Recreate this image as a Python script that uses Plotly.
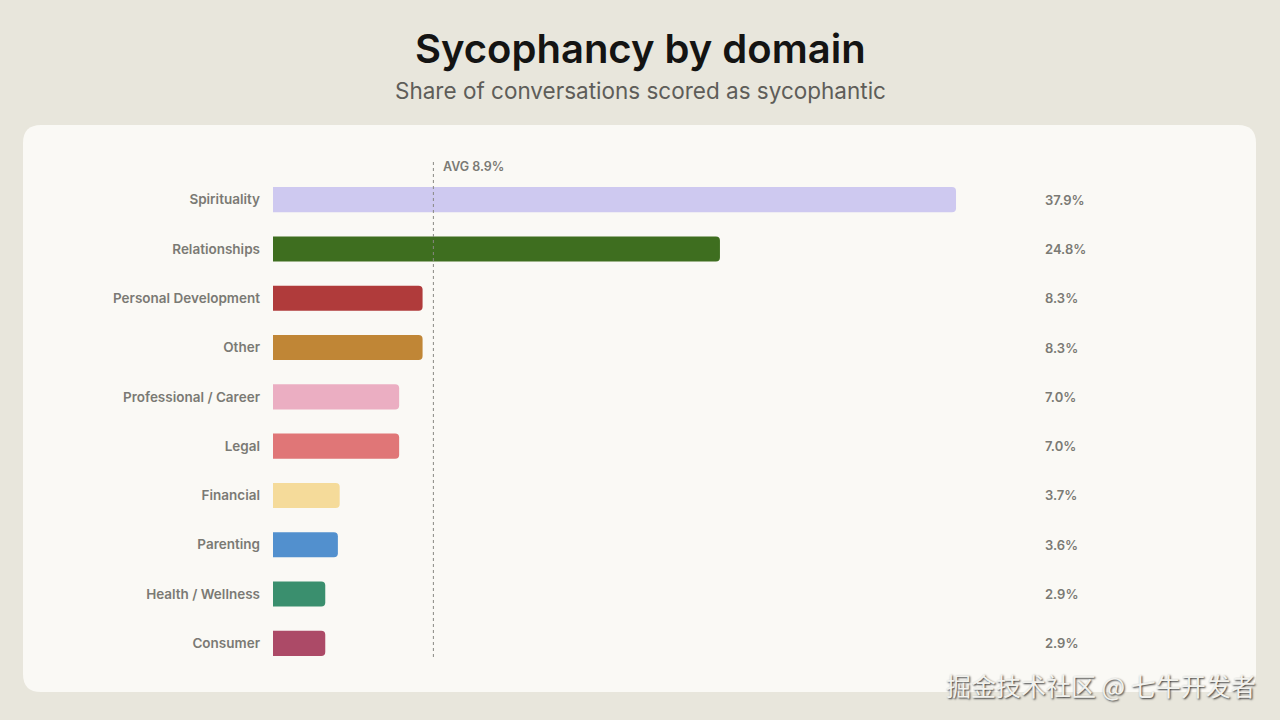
import plotly.graph_objects as go

categories = ["Spirituality", "Relationships", "Personal Development", "Other",
              "Professional / Career", "Legal", "Financial", "Parenting",
              "Health / Wellness", "Consumer"]
values = [37.9, 24.8, 8.3, 8.3, 7.0, 7.0, 3.7, 3.6, 2.9, 2.9]
value_labels = ["37.9%", "24.8%", "8.3%", "8.3%", "7.0%", "7.0%", "3.7%", "3.6%", "2.9%", "2.9%"]
colors = ["#CEC9F0", "#3E6E1F", "#B03B3B", "#C08636", "#EBAEC2",
          "#E07677", "#F5DB9A", "#5290CE", "#3A8F6E", "#AC4A67"]
avg_value = 8.9
avg_label = "AVG 8.9%"
title = "Sycophancy by domain"
subtitle = "Share of conversations scored as sycophantic"
watermark = "掘金技术社区 @ 七牛开发者"

W, H = 1280, 720
ML, MR, MT, MB = 273, 178, 175, 52
PW, PH = W - ML - MR, H - MT - MB
XMAX = 46


def px(x):
    return (x - ML) / PW


def py(y):
    return (H - MB - y) / PH


FONT = "Inter"
GRAY = "#7a7a74"

fig = go.Figure()
fig.add_trace(go.Bar(
    x=values, y=categories, orientation="h",
    marker=dict(color=colors, line=dict(width=0), cornerradius=4),
    hoverinfo="skip",
))

# card background
cx0, cx1, cy0, cy1, r = px(23), px(1256), py(692), py(125), 18
rx, ry = r / PW, r / PH
path = (f"M {cx0+rx},{cy0} L {cx1-rx},{cy0} Q {cx1},{cy0} {cx1},{cy0+ry} "
        f"L {cx1},{cy1-ry} Q {cx1},{cy1} {cx1-rx},{cy1} L {cx0+rx},{cy1} "
        f"Q {cx0},{cy1} {cx0},{cy1-ry} L {cx0},{cy0+ry} Q {cx0},{cy0} {cx0+rx},{cy0} Z")
shapes = [
    dict(type="path", xref="paper", yref="paper", path=path,
         fillcolor="#FAF9F5", line=dict(width=0), layer="below"),
    dict(type="line", xref="x", yref="paper", x0=avg_value, x1=avg_value,
         y0=py(162), y1=py(657), line=dict(color="#888882", width=1, dash="3px,3px")),
]

annotations = [
    dict(text=title, xref="paper", yref="paper", x=px(640), y=py(48),
         xanchor="center", yanchor="middle", showarrow=False,
         font=dict(family=FONT, size=40, color="#141413", weight=600)),
    dict(text=subtitle, xref="paper", yref="paper", x=px(640), y=py(90),
         xanchor="center", yanchor="middle", showarrow=False,
         font=dict(family=FONT, size=22.5, color="#5e5d59")),
    dict(text=avg_label, xref="x", yref="paper", x=avg_value, y=py(167),
         xanchor="left", yanchor="middle", xshift=8, showarrow=False,
         font=dict(family=FONT, size=12.5, color=GRAY, weight=600)),
    dict(text=watermark, xref="paper", yref="paper", x=px(1258), y=py(685),
         xanchor="right", yanchor="middle", showarrow=False,
         font=dict(family="Noto Sans CJK SC", size=25, color="#f2f2ee",
                   shadow="1px 1px 2px #333")),
]
for cat, lab in zip(categories, value_labels):
    annotations.append(dict(text=lab, xref="paper", yref="y", x=px(1043), y=cat,
                            xanchor="left", yanchor="middle", showarrow=False,
                            font=dict(family=FONT, size=13, color=GRAY, weight=600)))

fig.update_layout(
    width=W, height=H, autosize=False,
    margin=dict(l=ML, r=MR, t=MT, b=MB),
    paper_bgcolor="#E8E6DC", plot_bgcolor="rgba(0,0,0,0)",
    bargap=0.49, showlegend=False,
    shapes=shapes, annotations=annotations,
    xaxis=dict(range=[0, XMAX], visible=False, fixedrange=True),
    yaxis=dict(autorange="reversed", showgrid=False, zeroline=False, showline=False,
               ticks="", ticklabelstandoff=12, fixedrange=True,
               tickfont=dict(family=FONT, size=13.5, color=GRAY, weight=600)),
)

fig.write_html("out.html", config={"displayModeBar": False},
               post_script="document.body.style.margin='0';document.body.style.background='#E8E6DC';")
